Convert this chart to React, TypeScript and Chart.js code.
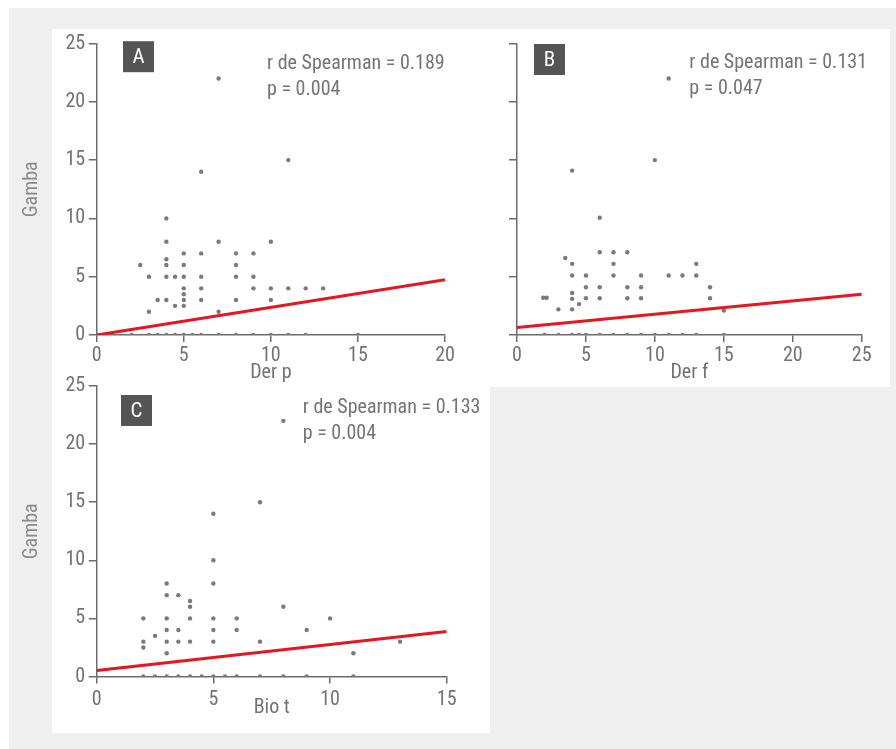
import React, { useEffect, useRef } from "react";
import { Chart, registerables } from "chart.js";

Chart.register(...registerables);

const FONT = "'Liberation Sans Narrow', 'Roboto Condensed', 'DejaVu Sans Condensed', sans-serif";

// ---------- Panel A : Der p vs Gamba ----------
const derP = [2.5, 3, 3, 3.5, 4, 4, 4, 4, 4, 4, 4.5, 4.5, 5, 5, 5, 5, 5, 5, 5, 6, 6, 6, 6, 6, 7, 7, 7, 8, 8, 8, 8, 9, 9, 9, 10, 10, 10, 11, 11, 12, 13,
  2, 3, 3.5, 4, 4.5, 5, 5.5, 6, 7, 8, 9, 10, 11, 12, 15];
const gambaA = [6, 5, 2, 3, 10, 8, 6.5, 6, 5, 3, 5, 2.5, 7, 6, 5, 4, 3.5, 3, 2.5, 14, 7, 5, 4, 3, 22, 8, 2, 7, 6, 5, 3, 7, 5, 4, 8, 4, 3, 15, 4, 4, 4,
  0, 0, 0, 0, 0, 0, 0, 0, 0, 0, 0, 0, 0, 0, 0];
const fitA = [{ x: 0, y: 0 }, { x: 20, y: 4.74 }];
const statsA = ["r de Spearman = 0.189", "p = 0.004"];

// ---------- Panel B : Der f vs Gamba ----------
const derF = [1.9, 2.15, 3, 3.5, 4, 4, 4, 4, 4, 4, 4.5, 5, 5, 5, 6, 6, 6, 6, 7, 7, 7, 8, 8, 8, 9, 9, 9, 10, 11, 11, 12, 13, 13, 14, 14, 15,
  2, 3, 4, 4.5, 5, 6, 7, 8, 9, 10, 11, 12, 13, 15];
const gambaB = [3.2, 3.2, 2.2, 6.6, 14.1, 6.1, 5.1, 3.6, 3.1, 2.2, 2.65, 5.1, 4.1, 3.15, 10.05, 7.1, 4.1, 3.15, 7.1, 6.1, 5.1, 7.1, 4.1, 3.15, 5.1, 4.1, 3.15, 15, 22, 5.1, 5.1, 6.1, 5.1, 4.1, 3.15, 2.1,
  0, 0, 0, 0, 0, 0, 0, 0, 0, 0, 0, 0, 0, 0];
const fitB = [{ x: 0, y: 0.65 }, { x: 25, y: 3.49 }];
const statsB = ["r de Spearman = 0.131", "p = 0.047"];

// ---------- Panel C : Bio t vs Gamba ----------
const bioT = [2, 2, 2, 2.5, 3, 3, 3, 3, 3, 3, 3.5, 3.5, 3.5, 4, 4, 4, 4, 5, 5, 5, 5, 5, 5, 6, 6, 7, 7, 8, 8, 9, 10, 11, 13,
  2, 2.5, 3, 3.5, 4, 4.5, 5, 5.5, 6, 7, 8, 9, 11];
const gambaC = [5, 3, 2.5, 3.5, 8, 7, 5, 4, 3, 2, 7, 4, 3, 6.5, 6, 5, 3, 14, 10, 8, 5, 4, 3, 5, 4, 15, 3, 22, 6, 4, 5, 2, 3,
  0, 0, 0, 0, 0, 0, 0, 0, 0, 0, 0, 0, 0];
const fitC = [{ x: 0, y: 0.52 }, { x: 15, y: 3.87 }];
const statsC = ["r de Spearman = 0.133", "p = 0.004"];

const yTicks = [0, 5, 10, 15, 20, 25];

const AXIS = "#6c6c6c";
const TICK_TEXT = "#727272";
const TITLE_TEXT = "#8a8a8a";
const DOT = "#7a7a7a";
const RED = "#e5161f";

const panelLabelPlugin = {
  id: "panelLabels",
  afterDraw(chart: any, _args: any, opts: any) {
    if (!opts || !opts.letter) return;
    const { ctx, chartArea } = chart;
    const bx = chartArea.left + opts.boxX;
    const by = chartArea.top + opts.boxY;
    ctx.save();
    ctx.fillStyle = "#555555";
    ctx.fillRect(bx, by, opts.boxSize, opts.boxSize);
    ctx.fillStyle = "#ffffff";
    ctx.font = `21px ${FONT}`;
    ctx.textAlign = "center";
    ctx.textBaseline = "middle";
    ctx.fillText(opts.letter, bx + opts.boxSize / 2, by + opts.boxSize / 2 + 1);
    ctx.fillStyle = "#747474";
    ctx.textAlign = "left";
    ctx.textBaseline = "alphabetic";
    ctx.font = `20px ${FONT}`;
    opts.lines.forEach((t: string, i: number) => {
      ctx.fillText(t, chartArea.left + opts.textX, chartArea.top + opts.textY + i * opts.lineGap);
    });
    ctx.restore();
  },
};

type PanelDef = {
  xs: number[];
  ys: number[];
  fit: { x: number; y: number }[];
  xMax: number;
  xTitle: string;
  showYLabels: boolean;
  canvas: { x: number; y: number; w: number; h: number };
  area: { l: number; t: number; r: number; b: number };
  xH: number;
  xTickPad: number;
  letter: string;
  stats: string[];
  boxX: number;
  boxY: number;
  textX: number;
  textY: number;
};

const panels: PanelDef[] = [
  {
    xs: derP, ys: gambaA, fit: fitA, xMax: 20, xTitle: "Der p", showYLabels: true,
    canvas: { x: 10, y: 28, w: 460, h: 359 },
    area: { l: 96.7, t: 43.3, r: 445, b: 335 },
    xH: 50, xTickPad: 2,
    letter: "A", stats: statsA, boxX: 26.3, boxY: -2.3, textX: 170.3, textY: 25,
  },
  {
    xs: derF, ys: gambaB, fit: fitB, xMax: 25, xTitle: "Der f", showYLabels: false,
    canvas: { x: 470, y: 28, w: 420, h: 359 },
    area: { l: 517, t: 43.5, r: 861.7, b: 335 },
    xH: 50, xTickPad: 2,
    letter: "B", stats: statsB, boxX: 17, boxY: 0.5, textX: 172.3, textY: 24.8,
  },
  {
    xs: bioT, ys: gambaC, fit: fitC, xMax: 15, xTitle: "Bio t", showYLabels: true,
    canvas: { x: 10, y: 370, w: 480, h: 370 },
    area: { l: 96.7, t: 386, r: 446.7, b: 676.5 },
    xH: 43, xTickPad: 4,
    letter: "C", stats: statsC, boxX: 24.3, boxY: 9, textX: 206, textY: 26.7,
  },
];

function Panel({ p }: { p: PanelDef }) {
  const ref = useRef<HTMLCanvasElement>(null);
  useEffect(() => {
    const c = p.canvas;
    const a = p.area;
    const pts = p.xs.map((x, i) => ({ x, y: p.ys[i] }));
    const padTop = a.t - c.y;
    const padRight = c.x + c.w - a.r;
    const padBottom = c.y + c.h - a.b - p.xH;
    const yW = a.l - c.x;
    const chart = new Chart(ref.current as HTMLCanvasElement, {
      type: "scatter",
      data: {
        datasets: [
          {
            type: "line",
            data: p.fit,
            borderColor: RED,
            borderWidth: 3,
            pointRadius: 0,
            fill: false,
            tension: 0,
            order: 0,
          } as any,
          {
            data: pts,
            backgroundColor: DOT,
            borderColor: DOT,
            pointRadius: 2.2,
            pointBorderWidth: 0,
            order: 1,
          },
        ],
      },
      options: {
        animation: false,
        responsive: false,
        devicePixelRatio: 1,
        layout: { padding: { left: 0, top: padTop, right: padRight, bottom: padBottom } },
        plugins: {
          legend: { display: false },
          tooltip: { enabled: false },
          panelLabels: {
            letter: p.letter, lines: p.stats, boxX: p.boxX, boxY: p.boxY, boxSize: 31,
            textX: p.textX, textY: p.textY, lineGap: 26,
          },
        } as any,
        scales: {
          x: {
            type: "linear",
            min: 0,
            max: p.xMax,
            afterFit: (s: any) => { s.height = p.xH; },
            ticks: { stepSize: 5, color: TICK_TEXT, padding: p.xTickPad, font: { family: FONT, size: 20 } },
            grid: { drawOnChartArea: false, drawTicks: true, tickLength: 7, color: AXIS, lineWidth: 1.5 },
            border: { display: true, color: AXIS, width: 1.5 },
            title: { display: true, text: p.xTitle, color: TICK_TEXT, padding: 0, font: { family: FONT, size: 20 } },
          },
          y: {
            type: "linear",
            min: 0,
            max: 25,
            afterFit: (s: any) => { s.width = yW; },
            afterBuildTicks: (s: any) => { s.ticks = yTicks.map((v) => ({ value: v })); },
            ticks: { display: p.showYLabels, color: TICK_TEXT, padding: 3.5, font: { family: FONT, size: 20 } },
            grid: { drawOnChartArea: false, drawTicks: true, tickLength: 8, color: AXIS, lineWidth: 1.5 },
            border: { display: true, color: AXIS, width: 1.5 },
            title: { display: p.showYLabels, text: "Gamba", color: TITLE_TEXT, padding: { top: 10, bottom: 0 }, font: { family: FONT, size: 20 } },
          },
        },
      },
      plugins: [panelLabelPlugin],
    });
    return () => chart.destroy();
  }, []);
  const c = p.canvas;
  return (
    <canvas
      ref={ref}
      width={c.w}
      height={c.h}
      style={{ position: "absolute", left: c.x, top: c.y, width: c.w, height: c.h }}
    />
  );
}

export default function App() {
  return (
    <div style={{ position: "absolute", left: 0, top: 0, width: 896, height: 749, overflow: "hidden" }}>
      <div style={{ position: "absolute", left: 9, top: 8, width: 887, height: 741, background: "#efefef" }} />
      <div style={{ position: "absolute", left: 52, top: 29, width: 838, height: 358, background: "#ffffff" }} />
      <div style={{ position: "absolute", left: 52, top: 387, width: 438, height: 346, background: "#ffffff" }} />
      {panels.map((p, i) => (
        <Panel key={i} p={p} />
      ))}
    </div>
  );
}
